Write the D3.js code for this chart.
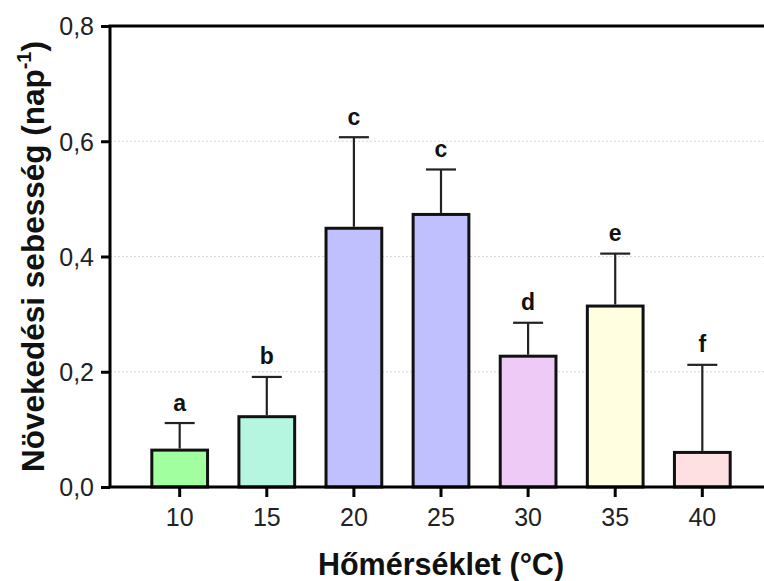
<!DOCTYPE html>
<html>
<head>
<meta charset="utf-8">
<script src="https://cdn.jsdelivr.net/npm/d3@7"></script>
<style>
  body { margin: 0; background: #fff; }
  svg text { font-family: "Liberation Sans", Arial, sans-serif; }
</style>
</head>
<body>
<svg id="chart" width="764" height="581"></svg>
<script>
// adatok
const homerseklet = ["10", "15", "20", "25", "30", "35", "40"];
const atlag = [0.064, 0.122, 0.449, 0.473, 0.227, 0.314, 0.060];
const szoras = [0.047, 0.069, 0.158, 0.078, 0.058, 0.091, 0.152];
const betuk = ["a", "b", "c", "c", "d", "e", "f"];
const szinek = ["#a2ffa0", "#b4f6e0", "#c0c0ff", "#c0c0ff", "#eecaf6", "#fffee0", "#ffe0e2"];
const yTicks = [0, 0.2, 0.4, 0.6, 0.8];

const svg = d3.select("#chart");
const mLeft = 110, mRight = 772, mTop = 26, mBottom = 487;

const x = d3.scaleBand().domain(homerseklet).range([mLeft, mRight]).paddingInner(0.36).paddingOuter(0.48);
const y = d3.scaleLinear().domain([0, 0.8]).range([mBottom, mTop]);

// rácsvonalak (pontozott)
svg.append("g").selectAll("line")
  .data(yTicks.filter(d => d > 0 && d < 0.8))
  .enter().append("line")
  .attr("x1", mLeft).attr("x2", mRight)
  .attr("y1", d => y(d)).attr("y2", d => y(d))
  .attr("stroke", "#d6d6d6").attr("stroke-width", 1.2)
  .attr("stroke-dasharray", "2,2");

// oszlopok
svg.append("g").selectAll("rect")
  .data(atlag)
  .enter().append("rect")
  .attr("x", (d, i) => x(homerseklet[i]))
  .attr("width", x.bandwidth())
  .attr("y", d => y(d))
  .attr("height", d => y(0) - y(d))
  .attr("fill", (d, i) => szinek[i])
  .attr("stroke", "#111").attr("stroke-width", 3);

// hibasávok
const hiba = svg.append("g").attr("stroke", "#222").attr("stroke-width", 2.2);
atlag.forEach((d, i) => {
  const cx = x(homerseklet[i]) + x.bandwidth() / 2;
  hiba.append("line").attr("x1", cx).attr("x2", cx).attr("y1", y(d) - 1.5).attr("y2", y(d + szoras[i]));
  hiba.append("line").attr("x1", cx - 15).attr("x2", cx + 15).attr("y1", y(d + szoras[i])).attr("y2", y(d + szoras[i]));
});

// betűk
svg.append("g").selectAll("text")
  .data(betuk)
  .enter().append("text")
  .attr("x", (d, i) => x(homerseklet[i]) + x.bandwidth() / 2)
  .attr("y", (d, i) => y(atlag[i] + szoras[i]) - 12.5)
  .attr("text-anchor", "middle")
  .attr("font-size", 23).attr("font-weight", "bold").attr("fill", "#111")
  .text(d => d);

// tengelyek
const yAxis = d3.axisLeft(y).tickValues(yTicks).tickSize(9).tickPadding(7)
  .tickFormat(d => d3.format(".1f")(d).replace(".", ","));
svg.append("g").attr("transform", `translate(${mLeft},0)`).call(yAxis)
  .call(g => g.selectAll("path,line").attr("stroke", "#000").attr("stroke-width", 3))
  .call(g => g.select(".domain").attr("d", `M0,${mBottom}V${mTop}`))
  .call(g => g.selectAll("text").attr("font-size", 25).attr("fill", "#222").attr("dy", "0.35em")
    .style("font-family", "Liberation Sans, Arial, sans-serif"));

const xAxis = d3.axisBottom(x).tickSize(10).tickPadding(11);
svg.append("g").attr("transform", `translate(0,${mBottom})`).call(xAxis)
  .call(g => g.selectAll("path,line").attr("stroke", "#000").attr("stroke-width", 3))
  .call(g => g.select(".domain").attr("d", `M${mLeft},0H${mRight}`))
  .call(g => g.selectAll("text").attr("font-size", 25).attr("fill", "#222")
    .style("font-family", "Liberation Sans, Arial, sans-serif"));

// felső keret
svg.append("line").attr("x1", mLeft - 1.5).attr("x2", mRight).attr("y1", mTop).attr("y2", mTop)
  .attr("stroke", "#000").attr("stroke-width", 3);

// tengelycímek
svg.append("text")
  .attr("x", (mLeft + mRight) / 2).attr("y", 575)
  .attr("text-anchor", "middle").attr("font-size", 30.5).attr("font-weight", "bold").attr("fill", "#111")
  .text("Hőmérséklet (°C)");

const yl = svg.append("text")
  .attr("transform", `translate(44,472) rotate(-90)`)
  .attr("text-anchor", "start").attr("font-size", 31.5).attr("font-weight", "bold").attr("fill", "#111");
yl.append("tspan").text("Növekedési sebesség (nap");
yl.append("tspan").attr("font-size", 20).attr("dy", -13).text("-1");
yl.append("tspan").attr("dy", 13).text(")");
</script>
</body>
</html>
